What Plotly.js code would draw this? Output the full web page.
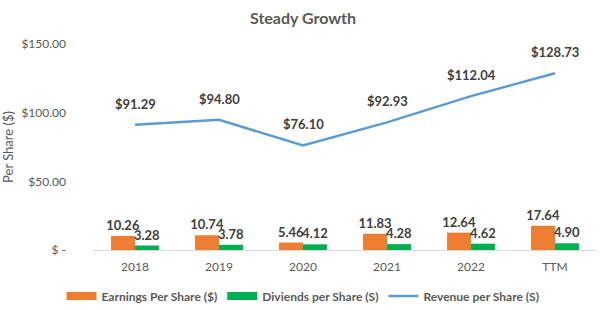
<!DOCTYPE html>
<html>
<head>
<meta charset="utf-8">
<script src="https://cdn.plot.ly/plotly-3.0.1.min.js"></script>
<style>
  html, body { margin: 0; padding: 0; background: #fff; }
  #chart { width: 606px; height: 310px; }
</style>
</head>
<body>
<div id="chart"></div>
<script>
// Per-share figures by fiscal year
const periods = ['2018', '2019', '2020', '2021', '2022', 'TTM'];
const earningsPerShare = [10.26, 10.74, 5.46, 11.83, 12.64, 17.64];
const dividendsPerShare = [3.28, 3.78, 4.12, 4.28, 4.62, 4.90];
const revenuePerShare = [91.29, 94.80, 76.10, 92.93, 112.04, 128.73];

const seriesNames = ['Earnings Per Share ($)', 'Diviends per Share (S)', 'Revenue per Share (S)'];
const seriesColors = ['#ED7D31', '#00B050', '#5B9BD5'];

const yTickVals = [0, 50, 100, 150];
const yTickText = ['$ -', '$50.00', '$100.00', '$150.00'];

const fontFamily = 'Lato, "Open Sans", sans-serif';
const labelFont = { family: fontFamily, size: 13, color: '#404040', weight: 'bold' };

const traces = [
  {
    type: 'bar',
    name: seriesNames[0],
    legendgroup: 'eps',
    showlegend: false,
    x: periods,
    y: earningsPerShare,
    marker: { color: seriesColors[0] },
    text: earningsPerShare.map(v => v.toFixed(2)),
    textposition: 'outside',
    constraintext: 'none',
    textfont: labelFont,
    cliponaxis: false,
    hoverinfo: 'skip'
  },
  {
    type: 'bar',
    name: seriesNames[1],
    legendgroup: 'dps',
    showlegend: false,
    x: periods,
    y: dividendsPerShare,
    marker: { color: seriesColors[1] },
    text: dividendsPerShare.map(v => v.toFixed(2)),
    textposition: 'outside',
    constraintext: 'none',
    textfont: labelFont,
    cliponaxis: false,
    hoverinfo: 'skip'
  },
  {
    type: 'scatter',
    mode: 'lines',
    name: seriesNames[2],
    legendgroup: 'rps',
    showlegend: false,
    x: periods,
    y: revenuePerShare,
    line: { color: seriesColors[2], width: 2.5 },
    cliponaxis: false,
    hoverinfo: 'skip'
  },
  // Legend keys: wide flat swatches for the bars, a thin stroke for the line
  { type: 'scatter', mode: 'lines', x: [null], y: [null], name: seriesNames[0], legendgroup: 'eps',
    line: { color: seriesColors[0], width: 8 }, hoverinfo: 'skip' },
  { type: 'scatter', mode: 'lines', x: [null], y: [null], name: seriesNames[1], legendgroup: 'dps',
    line: { color: seriesColors[1], width: 8 }, hoverinfo: 'skip' },
  { type: 'scatter', mode: 'lines', x: [null], y: [null], name: seriesNames[2], legendgroup: 'rps',
    line: { color: seriesColors[2], width: 2.5 }, hoverinfo: 'skip' }
];

// Revenue labels sit above each point of the line (x given as category index)
const revenueLabels = periods.map((p, i) => ({
  x: i,
  y: revenuePerShare[i],
  xref: 'x',
  yref: 'y',
  text: '$' + revenuePerShare[i].toFixed(2),
  showarrow: false,
  yanchor: 'bottom',
  yshift: 11,
  font: labelFont
}));

const layout = {
  width: 606,
  height: 310,
  margin: { l: 93, r: 9, t: 44, b: 60 },
  paper_bgcolor: '#ffffff',
  plot_bgcolor: '#ffffff',
  font: { family: fontFamily, size: 12, color: '#595959' },
  title: {
    text: 'Steady Growth',
    font: { family: fontFamily, size: 16, color: '#595959', weight: 'bold' },
    x: 0.5,
    xanchor: 'center',
    y: 0.94,
    yanchor: 'middle'
  },
  barmode: 'group',
  bargap: 0.43,
  bargroupgap: 0,
  xaxis: {
    type: 'category',
    categoryorder: 'array',
    categoryarray: periods,
    range: [-0.5, periods.length - 0.5],
    showline: true,
    linecolor: '#d9d9d9',
    linewidth: 1,
    ticks: '',
    ticklabelstandoff: 6,
    tickfont: { family: fontFamily, size: 12, color: '#595959' },
    fixedrange: true
  },
  yaxis: {
    range: [0, 150],
    tickvals: yTickVals,
    ticktext: yTickText,
    showgrid: false,
    zeroline: false,
    showline: false,
    ticks: '',
    ticklabelstandoff: 26,
    tickfont: { family: fontFamily, size: 12, color: '#595959' },
    title: {
      text: 'Per Share ($)',
      font: { family: fontFamily, size: 13, color: '#595959' },
      standoff: 5
    },
    fixedrange: true
  },
  annotations: revenueLabels,
  showlegend: true,
  legend: {
    orientation: 'h',
    xref: 'container',
    yref: 'container',
    x: 0.5,
    xanchor: 'center',
    y: 0.045,
    yanchor: 'middle',
    font: { family: fontFamily, size: 12, color: '#595959', weight: 'bold' },
    itemwidth: 30,
    tracegroupgap: 0,
    traceorder: 'normal'
  }
};

Plotly.newPlot('chart', traces, layout, { displayModeBar: false, staticPlot: true });
</script>
</body>
</html>
